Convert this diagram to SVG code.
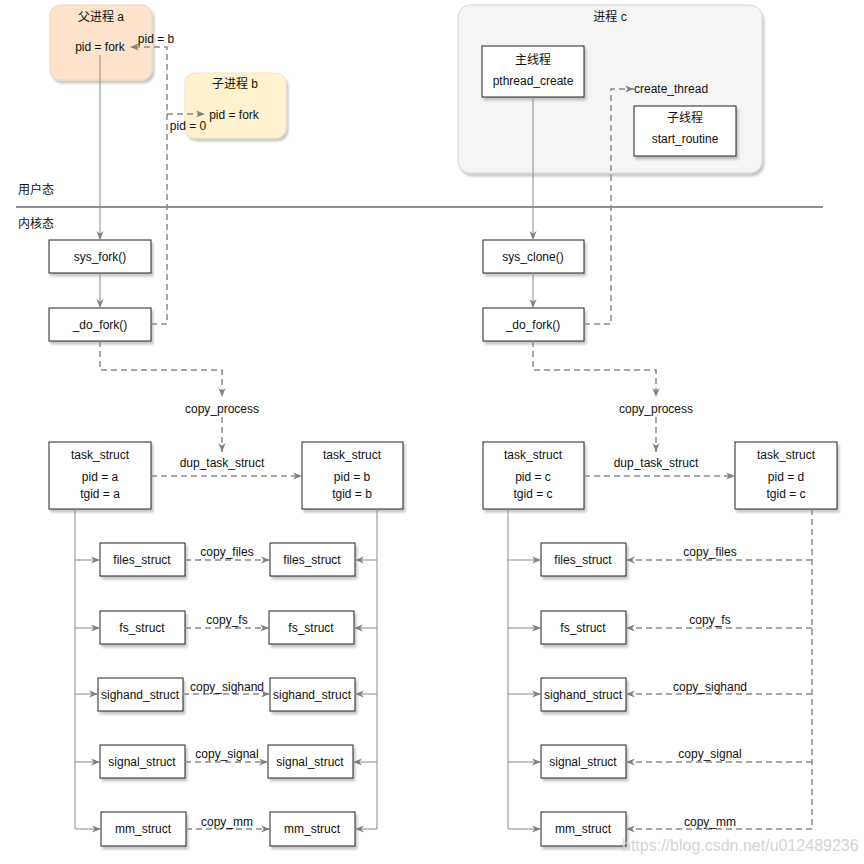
<svg xmlns="http://www.w3.org/2000/svg" width="864" height="864" viewBox="0 0 864 864">
<defs>
  <filter id="sh" x="-10%" y="-10%" width="130%" height="140%">
    <feDropShadow dx="2" dy="3" stdDeviation="1.2" flood-color="#000" flood-opacity="0.22"/>
  </filter>
  <marker id="arr" viewBox="0 0 10 10" refX="10" refY="5" markerWidth="9" markerHeight="9" orient="auto" markerUnits="userSpaceOnUse">
    <path d="M0,1 L10,5 L0,9 L3,5 Z" fill="#808080"/>
  </marker>
</defs>
<style>
  text { font-family: "Liberation Sans", Arial, "Noto Sans CJK SC", sans-serif; font-size: 12px; fill: #111; }
  .c { text-anchor: middle; }
  .box { fill: #fff; stroke: #222; stroke-width: 1; filter: url(#sh); }
  .solid { fill: none; stroke: #8a8a8a; stroke-width: 1; }
  .dash { fill: none; stroke: #8a8a8a; stroke-width: 1.5; stroke-dasharray: 6 4; }
  .arr { marker-end: url(#arr); }
</style>
<rect width="864" height="864" fill="#fff"/>

<!-- user / kernel divider -->
<g id="divider">
  <line x1="16" y1="207" x2="823" y2="207" stroke="#222" stroke-width="1"/>
  <text x="18" y="194">用户态</text>
  <text x="18" y="228">内核态</text>
</g>

<!-- nodes -->
<g id="parent-a">
  <rect x="50" y="5" width="102" height="75" rx="10" fill="#fde3cc" stroke="#f0d3b8" filter="url(#sh)"/>
  <text class="c" x="101" y="21">父进程 a</text>
  <text class="c" x="100" y="51">pid = fork</text>
</g>
<g id="child-b">
  <rect x="185" y="73" width="101" height="65" rx="10" fill="#fff2cc" stroke="#f2e4b8" filter="url(#sh)"/>
  <text class="c" x="235" y="88">子进程 b</text>
  <text class="c" x="234" y="119">pid = fork</text>
</g>
<g id="process-c">
  <rect x="458" y="5" width="304" height="168" rx="12" fill="#f5f5f5" stroke="#d6d6d6" filter="url(#sh)"/>
  <text class="c" x="610" y="21">进程 c</text>
</g>
<g id="main-thread">
  <rect class="box" x="482" y="46" width="102" height="51"/>
  <text class="c" x="533" y="64">主线程</text>
  <text class="c" x="533" y="85">pthread_create</text>
</g>
<g id="sub-thread">
  <rect class="box" x="634" y="106" width="102" height="50"/>
  <text class="c" x="685" y="122">子线程</text>
  <text class="c" x="685" y="143">start_routine</text>
</g>

<g id="sys-fork">
  <rect class="box" x="49" y="240" width="102" height="33"/>
  <text class="c" x="100" y="261">sys_fork()</text>
</g>
<g id="do-fork-left">
  <rect class="box" x="49" y="308" width="102" height="33"/>
  <text class="c" x="100" y="329">_do_fork()</text>
</g>
<g id="sys-clone">
  <rect class="box" x="483" y="240" width="101" height="33"/>
  <text class="c" x="533" y="261">sys_clone()</text>
</g>
<g id="do-fork-right">
  <rect class="box" x="483" y="308" width="101" height="33"/>
  <text class="c" x="533" y="329">_do_fork()</text>
</g>

<g id="task-a">
  <rect class="box" x="49" y="442" width="102" height="67"/>
  <text class="c" x="100" y="459">task_struct</text>
  <text class="c" x="100" y="481">pid = a</text>
  <text class="c" x="100" y="498">tgid = a</text>
</g>
<g id="task-b">
  <rect class="box" x="302" y="442" width="101" height="67"/>
  <text class="c" x="352" y="459">task_struct</text>
  <text class="c" x="352" y="481">pid = b</text>
  <text class="c" x="352" y="498">tgid = b</text>
</g>
<g id="task-c">
  <rect class="box" x="483" y="442" width="101" height="67"/>
  <text class="c" x="533" y="459">task_struct</text>
  <text class="c" x="533" y="481">pid = c</text>
  <text class="c" x="533" y="498">tgid = c</text>
</g>
<g id="task-d">
  <rect class="box" x="735" y="442" width="102" height="67"/>
  <text class="c" x="786" y="459">task_struct</text>
  <text class="c" x="786" y="481">pid = d</text>
  <text class="c" x="786" y="498">tgid = c</text>
</g>

<!-- left struct column (parent a) -->
<g id="a-files"><rect class="box" x="100" y="543" width="85" height="33"/><text class="c" x="142" y="564">files_struct</text></g>
<g id="a-fs"><rect class="box" x="100" y="611" width="85" height="33"/><text class="c" x="142" y="632">fs_struct</text></g>
<g id="a-sighand"><rect class="box" x="98" y="678" width="85" height="33"/><text class="c" x="140" y="699">sighand_struct</text></g>
<g id="a-signal"><rect class="box" x="100" y="745" width="85" height="33"/><text class="c" x="142" y="766">signal_struct</text></g>
<g id="a-mm"><rect class="box" x="101" y="812" width="85" height="34"/><text class="c" x="143" y="833">mm_struct</text></g>

<g id="b-files"><rect class="box" x="270" y="543" width="85" height="33"/><text class="c" x="312" y="564">files_struct</text></g>
<g id="b-fs"><rect class="box" x="269" y="611" width="85" height="33"/><text class="c" x="311" y="632">fs_struct</text></g>
<g id="b-sighand"><rect class="box" x="270" y="678" width="85" height="33"/><text class="c" x="312" y="699">sighand_struct</text></g>
<g id="b-signal"><rect class="box" x="268" y="745" width="85" height="33"/><text class="c" x="310" y="766">signal_struct</text></g>
<g id="b-mm"><rect class="box" x="270" y="812" width="85" height="34"/><text class="c" x="312" y="833">mm_struct</text></g>

<!-- right struct column (thread) -->
<g id="c-files"><rect class="box" x="541" y="543" width="85" height="33"/><text class="c" x="583" y="564">files_struct</text></g>
<g id="c-fs"><rect class="box" x="541" y="611" width="85" height="33"/><text class="c" x="583" y="632">fs_struct</text></g>
<g id="c-sighand"><rect class="box" x="541" y="678" width="85" height="33"/><text class="c" x="583" y="699">sighand_struct</text></g>
<g id="c-signal"><rect class="box" x="541" y="745" width="85" height="33"/><text class="c" x="583" y="766">signal_struct</text></g>
<g id="c-mm"><rect class="box" x="541" y="812" width="85" height="34"/><text class="c" x="583" y="833">mm_struct</text></g>

<!-- connectors -->
<g id="connectors">
  <!-- parent a -->
  <path class="solid arr" d="M100,55 V240"/>
  <path class="solid arr" d="M100,273 V308"/>
  <path class="dash arr" d="M151,324 H167 V47 H130"/>
  <path class="dash arr" d="M167,114 H205"/>
  <path class="dash arr" d="M100,341 V370 H222 V397"/>
  <path class="dash arr" d="M222,417 V452"/>
  <path class="dash arr" d="M151,476 H302"/>
  <!-- thread -->
  <path class="solid arr" d="M533,97 V240"/>
  <path class="solid arr" d="M533,273 V308"/>
  <path class="dash arr" d="M584,324 H611 V89 H634"/>
  <path class="dash arr" d="M533,341 V370 H656 V397"/>
  <path class="dash arr" d="M656,417 V452"/>
  <path class="dash arr" d="M584,476 H735"/>

  <!-- left trunk a -->
  <path class="solid" d="M75,509 V829"/>
  <path class="solid arr" d="M75,560 H100"/>
  <path class="solid arr" d="M75,628 H100"/>
  <path class="solid arr" d="M75,694 H98"/>
  <path class="solid arr" d="M75,762 H100"/>
  <path class="solid arr" d="M75,829 H101"/>
  <!-- right trunk b -->
  <path class="solid" d="M377,509 V829"/>
  <path class="solid arr" d="M377,560 H355"/>
  <path class="solid arr" d="M377,628 H354"/>
  <path class="solid arr" d="M377,694 H355"/>
  <path class="solid arr" d="M377,762 H353"/>
  <path class="solid arr" d="M377,829 H355"/>
  <!-- copies a -> b -->
  <path class="dash arr" d="M185,560 H270"/>
  <path class="dash arr" d="M185,628 H269"/>
  <path class="dash arr" d="M183,694 H270"/>
  <path class="dash arr" d="M185,762 H268"/>
  <path class="dash arr" d="M186,829 H270"/>

  <!-- left trunk c -->
  <path class="solid" d="M508,509 V829"/>
  <path class="solid arr" d="M508,560 H541"/>
  <path class="solid arr" d="M508,628 H541"/>
  <path class="solid arr" d="M508,694 H541"/>
  <path class="solid arr" d="M508,762 H541"/>
  <path class="solid arr" d="M508,829 H541"/>
  <!-- dashed trunk d -->
  <path class="dash" d="M812,509 V829"/>
  <path class="dash arr" d="M812,560 H626"/>
  <path class="dash arr" d="M812,628 H626"/>
  <path class="dash arr" d="M812,694 H626"/>
  <path class="dash arr" d="M812,762 H626"/>
  <path class="dash arr" d="M812,829 H626"/>
</g>

<!-- connector labels -->
<g id="labels">
  <text class="c" x="156" y="43">pid = b</text>
  <text class="c" x="188" y="130">pid = 0</text>
  <text x="634" y="93">create_thread</text>
  <text class="c" x="222" y="413">copy_process</text>
  <text class="c" x="222" y="467">dup_task_struct</text>
  <text class="c" x="656" y="413">copy_process</text>
  <text class="c" x="656" y="467">dup_task_struct</text>
  <text class="c" x="227" y="556">copy_files</text>
  <text class="c" x="227" y="624">copy_fs</text>
  <text class="c" x="227" y="691">copy_sighand</text>
  <text class="c" x="227" y="758">copy_signal</text>
  <text class="c" x="227" y="826">copy_mm</text>
  <text class="c" x="710" y="556">copy_files</text>
  <text class="c" x="710" y="624">copy_fs</text>
  <text class="c" x="710" y="691">copy_sighand</text>
  <text class="c" x="710" y="758">copy_signal</text>
  <text class="c" x="710" y="826">copy_mm</text>
</g>

<text x="622" y="851" style="font-size:16px;fill:#d4d4d4">https://blog.csdn.net/u012489236</text>
</svg>
